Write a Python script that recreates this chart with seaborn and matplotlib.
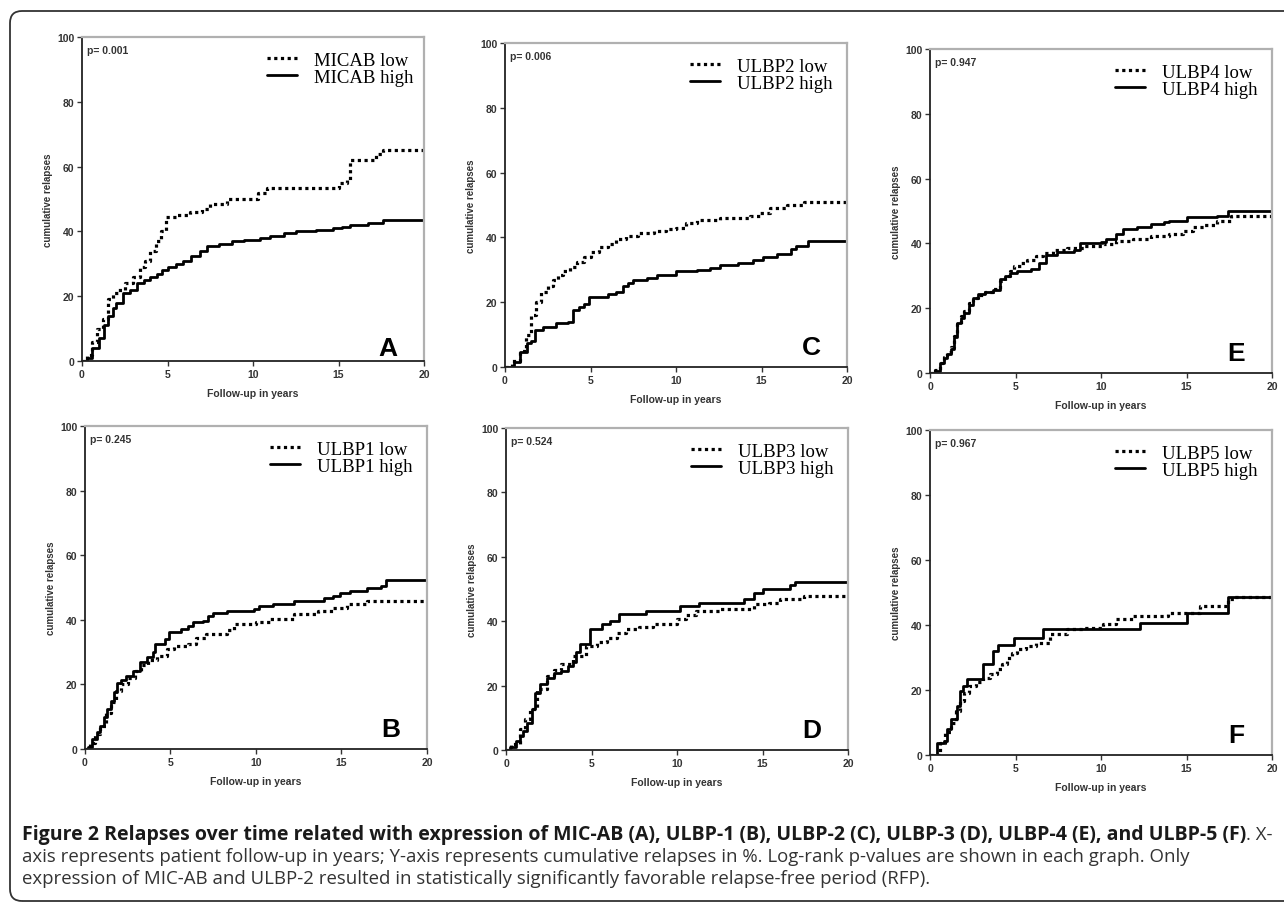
import numpy as np
import pandas as pd
import matplotlib
matplotlib.use("Agg")
import matplotlib.pyplot as plt
import seaborn as sns
from matplotlib.patches import FancyBboxPatch
from matplotlib.transforms import IdentityTransform

# Kaplan-Meier style cumulative relapse curves
A_low_t = [0, 0.3, 0.6, 0.9, 1.2, 1.5, 1.8, 2.1, 2.5, 3.0, 3.4, 3.7, 4.0, 4.3, 4.6, 4.9, 5.5, 6.3, 7.0, 7.5, 8.5, 10.0, 10.3, 10.8, 14.5, 15.0, 15.5, 15.7, 16.8, 17.2, 17.6, 20.0]
A_low_y = [0, 2, 6, 10, 13, 19, 21, 22, 24, 26, 29, 31, 34, 37, 40, 44.5, 45, 46, 47, 48.5, 50, 50, 52, 53.5, 53.5, 55, 56, 62, 62, 64, 65, 65]
A_high_t = [0, 0.3, 0.6, 1.0, 1.3, 1.5, 1.8, 2.0, 2.4, 2.8, 3.2, 3.6, 4.0, 4.4, 4.7, 5.0, 5.5, 5.9, 6.4, 6.9, 7.3, 8.0, 8.8, 9.5, 10.4, 11.0, 11.8, 12.5, 13.7, 14.7, 15.2, 15.7, 16.7, 17.6, 20.0]
A_high_y = [0, 1, 4, 7, 11, 14, 16.5, 18, 21, 22, 24, 25, 26, 27, 28, 29, 30, 31, 32.5, 34, 35.5, 36, 37, 37.5, 38, 38.5, 39.5, 40, 40.5, 41, 41.5, 42, 42.5, 43.5, 43.5]

B_low_t = [0, 0.3, 0.6, 0.9, 1.2, 1.5, 1.8, 2.1, 2.5, 2.9, 3.3, 3.7, 4.2, 4.8, 5.2, 6.0, 6.5, 7.1, 8.3, 8.7, 10.0, 10.8, 12.2, 13.6, 14.5, 15.3, 16.5, 20.0]
B_low_y = [0, 2, 4.5, 7, 11, 14.5, 18, 20, 22, 24, 26, 27.5, 28.9, 30.9, 32, 32.5, 34.5, 35.6, 36.9, 38.7, 39.2, 40.2, 41.8, 42.8, 43.8, 44.8, 45.9, 45.9]
B_high_t = [0, 0.2, 0.4, 0.7, 0.9, 1.1, 1.3, 1.5, 1.7, 1.85, 2.1, 2.4, 2.8, 3.2, 3.6, 4.0, 4.1, 4.7, 4.9, 5.6, 6.0, 6.3, 6.9, 7.2, 7.5, 8.3, 9.9, 10.2, 11.0, 12.2, 14.0, 14.5, 14.9, 15.5, 16.5, 17.3, 17.6, 20.0]
B_high_y = [0, 0.5, 3, 5.2, 7.2, 10, 12.4, 15, 17.5, 20.5, 21.5, 22.7, 24.2, 26.8, 28.4, 29.9, 32.5, 34, 36.1, 37.1, 38.1, 39.2, 39.7, 41.2, 42.1, 42.8, 43.3, 44.3, 45, 45.9, 46.6, 47.4, 48.2, 49, 49.7, 50.5, 52.4, 52.4]

C_low_t = [0, 0.4, 0.9, 1.2, 1.5, 1.8, 2.1, 2.5, 2.8, 3.1, 3.4, 3.8, 4.2, 4.6, 5.0, 5.5, 6.0, 6.5, 7.1, 7.8, 8.7, 9.4, 10.0, 10.6, 11.2, 12.6, 14.3, 14.9, 15.5, 16.5, 17.5, 20.0]
C_low_y = [0, 2, 5, 10, 16, 20, 23, 25, 27, 28.5, 29.5, 31, 32.5, 34, 35.5, 37, 38, 39.5, 40.5, 41.5, 42, 42.5, 43, 44.5, 45.5, 46, 46.5, 47.5, 49, 50, 51, 51]
C_high_t = [0, 0.5, 0.9, 1.3, 1.5, 1.75, 2.2, 3.0, 3.7, 4.0, 4.3, 4.6, 4.9, 6.0, 6.5, 6.9, 7.2, 7.5, 8.3, 8.9, 10.0, 11.2, 12.0, 12.6, 13.6, 14.5, 15.1, 15.9, 16.7, 17.0, 17.7, 20.0]
C_high_y = [0, 1.5, 4.5, 7.5, 8, 11.5, 12.5, 13.5, 14, 17.5, 18.5, 19.5, 21.5, 22.5, 23, 25, 26, 27, 27.5, 28.5, 29.5, 30, 30.5, 31.5, 32, 33, 34, 35, 36.5, 37.5, 39, 39]

D_low_t = [0, 0.3, 0.8, 1.1, 1.4, 1.8, 2.4, 2.8, 3.2, 3.9, 4.7, 5.3, 5.9, 6.5, 7.0, 7.8, 8.6, 10.0, 10.5, 11.1, 12.5, 14.5, 15.4, 16.0, 17.4, 20.0]
D_low_y = [0, 2, 6.4, 9.5, 12.6, 18.9, 23, 25, 26.6, 29.2, 32.3, 33.5, 34.9, 36.2, 37.5, 38.3, 39.1, 40.6, 42, 43.2, 43.7, 45.3, 45.8, 46.8, 47.9, 47.9]
D_high_t = [0, 0.25, 0.6, 0.8, 1.0, 1.2, 1.5, 1.7, 2.0, 2.4, 2.8, 3.2, 3.6, 3.9, 4.1, 4.3, 4.9, 5.6, 6.1, 6.6, 8.2, 10.2, 11.3, 13.9, 14.5, 15.0, 16.6, 16.9, 20.0]
D_high_y = [0, 1, 2.8, 4.4, 6, 8.5, 12.6, 17.8, 20.4, 22.5, 24, 24.6, 26.1, 27.2, 30.3, 32.8, 37.7, 39, 40.1, 42.2, 43.2, 44.8, 45.8, 47, 48.9, 49.9, 51.2, 52.3, 52.3]

E_low_t = [0, 0.3, 0.6, 0.8, 1.0, 1.2, 1.4, 1.6, 1.8, 2.0, 2.3, 2.5, 2.8, 3.2, 3.7, 4.1, 4.4, 4.7, 4.9, 5.3, 5.7, 6.2, 6.6, 7.2, 8.0, 9.0, 10.1, 10.9, 11.9, 12.9, 14.0, 14.8, 15.4, 16.0, 16.8, 17.6, 20.0]
E_low_y = [0, 1, 3, 5, 6.5, 8, 11.5, 15, 17.5, 19, 21.5, 23, 24, 25, 26, 28.5, 30, 31.5, 33, 34, 35, 36, 37, 38, 38.5, 39.3, 39.8, 40.8, 41.4, 42.2, 42.9, 43.9, 45, 45.7, 47, 48.5, 48.5]
E_high_t = [0, 0.3, 0.6, 0.8, 1.0, 1.2, 1.4, 1.6, 1.8, 2.0, 2.3, 2.5, 2.8, 3.2, 3.7, 4.1, 4.4, 4.7, 5.1, 5.9, 6.4, 6.8, 7.4, 8.4, 8.8, 10.0, 10.3, 10.9, 11.3, 12.1, 12.9, 13.7, 14.0, 15.0, 16.8, 17.4, 20.0]
E_high_y = [0, 0.5, 3, 4.5, 6, 7.5, 11, 15.5, 17, 18.5, 21, 23, 24.5, 25, 25.5, 29, 30, 31, 31.5, 32, 34, 36.5, 37.5, 38, 40, 40.5, 41.5, 43, 44.5, 45, 46, 46.5, 47, 48, 48.5, 50, 50]

F_low_t = [0, 0.2, 0.6, 0.9, 1.2, 1.5, 1.75, 2.0, 2.3, 2.7, 3.1, 3.5, 3.9, 4.2, 4.5, 4.8, 5.1, 5.6, 6.2, 7.0, 8.0, 9.0, 10.1, 10.9, 11.9, 13.9, 15.8, 17.4, 17.8, 20.0]
F_low_y = [0, 0, 3.8, 7, 10, 13.5, 16.6, 19, 21.2, 22.5, 23.8, 25, 26.4, 28, 30, 31.5, 32.5, 33.5, 34.6, 37.1, 38.7, 39.2, 40.2, 41.7, 42.8, 43.8, 45.8, 47.9, 48.7, 48.7]
F_high_t = [0, 0.4, 0.8, 1.0, 1.2, 1.6, 1.75, 1.95, 2.15, 3.1, 3.7, 4.0, 4.9, 6.6, 12.3, 15.0, 17.4, 20.0]
F_high_y = [0, 3.8, 4.3, 7.9, 11, 15.1, 19.7, 21.2, 23.5, 27.9, 32, 34, 36.1, 38.7, 40.7, 43.6, 48.7, 48.7]

markers = ["MICAB", "ULBP1", "ULBP2", "ULBP3", "ULBP4", "ULBP5"]
letters = ["A", "B", "C", "D", "E", "F"]
p_values = ["0.001", "0.245", "0.006", "0.524", "0.947", "0.967"]
low_t = [A_low_t, B_low_t, C_low_t, D_low_t, E_low_t, F_low_t]
low_y = [A_low_y, B_low_y, C_low_y, D_low_y, E_low_y, F_low_y]
high_t = [A_high_t, B_high_t, C_high_t, D_high_t, E_high_t, F_high_t]
high_y = [A_high_y, B_high_y, C_high_y, D_high_y, E_high_y, F_high_y]
x_ticks = [0, 5, 10, 15, 20]
y_ticks = [0, 20, 40, 60, 80, 100]

W, H = 1284, 904
# panel boxes in pixels: left, top, right, bottom
boxes = [(82, 38, 424, 362), (85, 427, 427, 750), (505, 44, 847, 368),
         (506, 429, 848, 751), (930, 50, 1272, 374), (930, 431, 1272, 756)]
letter_y = [0.02, 0.04, 0.04, 0.04, 0.04, 0.04]

sns.set_theme(style="ticks")
plt.rcParams["font.family"] = ["Liberation Sans", "DejaVu Sans"]

fig = plt.figure(figsize=(W / 100, H / 100), dpi=100)
fig.patch.set_facecolor("white")

for i in range(6):
    l, t, r, b = boxes[i]
    ax = fig.add_axes([l / W, 1 - b / H, (r - l) / W, (b - t) / H])
    df_low = pd.DataFrame({"t": low_t[i], "y": low_y[i]})
    df_high = pd.DataFrame({"t": high_t[i], "y": high_y[i]})
    sns.lineplot(data=df_low, x="t", y="y", ax=ax, estimator=None, color="black",
                 linewidth=2.3, linestyle=(0, (1, 1.1)), drawstyle="steps-post",
                 label=f"{markers[i]} low")
    sns.lineplot(data=df_high, x="t", y="y", ax=ax, estimator=None, color="black",
                 linewidth=2.0, drawstyle="steps-post", label=f"{markers[i]} high")
    ax.set_xlim(0, 20)
    ax.set_ylim(0, 100)
    ax.set_xticks(x_ticks)
    ax.set_yticks(y_ticks)
    ax.set_xticklabels([str(v) for v in x_ticks], fontsize=7.5, fontweight="bold", color="#333333")
    ax.set_yticklabels([str(v) for v in y_ticks], fontsize=7.5, fontweight="bold", color="#333333")
    ax.tick_params(length=3.5, width=1, color="#333333", pad=2)
    for s in ["left", "bottom"]:
        ax.spines[s].set_color("#222222")
        ax.spines[s].set_linewidth(1.3)
    for s in ["top", "right"]:
        ax.spines[s].set_visible(True)
        ax.spines[s].set_color("#b0b0b0")
        ax.spines[s].set_linewidth(1.6)
    ax.set_xlabel("Follow-up in years", fontsize=7.5, fontweight="bold", color="#333333", labelpad=7)
    ax.set_ylabel("cumulative relapses", fontsize=7, fontweight="bold", color="#333333", labelpad=3)
    ax.text(0.015, 0.975, f"p= {p_values[i]}", transform=ax.transAxes, fontsize=7.5,
            fontweight="bold", color="#333333", ha="left", va="top")
    ax.text(0.895, letter_y[i], letters[i], transform=ax.transAxes, fontsize=19,
            fontweight="bold", color="black", ha="center", va="baseline")
    leg = ax.legend(loc="upper left", bbox_to_anchor=(0.54, 0.955), frameon=False,
                    prop={"family": "Liberation Serif", "size": 13.5}, handlelength=1.6,
                    handletextpad=0.95, labelspacing=0.0, borderpad=0, borderaxespad=0)
    for txt in leg.get_texts():
        txt.set_color("black")

# rounded frame around the whole figure
frame = FancyBboxPatch((10, 2), 1300, 890, boxstyle="round,pad=0,rounding_size=12",
                       transform=IdentityTransform(), facecolor="none",
                       edgecolor="#333333", linewidth=1.3)
fig.patches.append(frame)

# caption, bold lead then regular text
cap_font = ["Open Sans", "DejaVu Sans"]
bold_size = 14.0
reg_size = 13.4
x0 = 22 / W
bold_part = ("Figure 2 Relapses over time related with expression of MIC-AB (A), ULBP-1 (B), "
             "ULBP-2 (C), ULBP-3 (D), ULBP-4 (E), and ULBP-5 (F)")
rest_1 = ". X-"
line_2 = ("axis represents patient follow-up in years; Y-axis represents cumulative relapses in %. "
          "Log-rank p-values are shown in each graph. Only")
line_3 = "expression of MIC-AB and ULBP-2 resulted in statistically significantly favorable relapse-free period (RFP)."

t1 = fig.text(x0, 1 - 840 / H, bold_part, fontsize=bold_size, fontweight="bold",
              family=cap_font, color="#1a1a1a", va="baseline", ha="left")
fig.canvas.draw()
renderer = fig.canvas.get_renderer()
bb = t1.get_window_extent(renderer)
fig.text(bb.x1 / W, 1 - 840 / H, rest_1, fontsize=reg_size, family=cap_font,
         color="#333333", va="baseline", ha="left")
fig.text(x0, 1 - 862 / H, line_2, fontsize=reg_size, family=cap_font,
         color="#333333", va="baseline", ha="left")
fig.text(x0, 1 - 884 / H, line_3, fontsize=reg_size, family=cap_font,
         color="#333333", va="baseline", ha="left")

fig.savefig("out.png", dpi=100, facecolor="white")
